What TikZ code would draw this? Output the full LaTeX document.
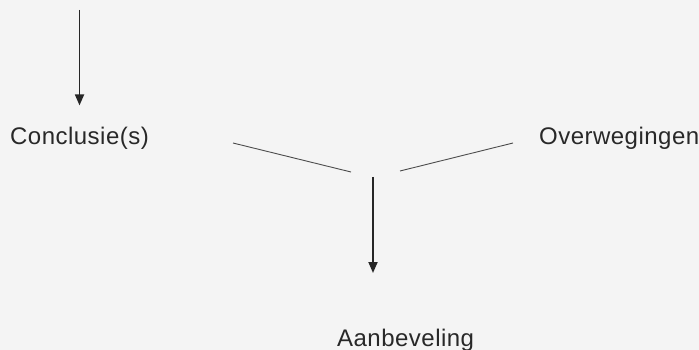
\documentclass[tikz,border=0pt]{standalone}
\usepackage{fontspec}
\usepackage{tikz}
\usetikzlibrary{arrows.meta,calc,positioning}
\newfontfamily\lblfont[LetterSpace=2]{Liberation Sans}
\definecolor{pagegray}{RGB}{244,244,244}
\definecolor{inkgray}{RGB}{40,40,40}

\begin{document}
\begin{tikzpicture}[
      x=1pt, y=-1pt,
      label text/.style={inner sep=0pt, anchor=base west, text=inkgray, font=\lblfont\fontsize{24}{28}\selectfont},
      flow/.style={-{Triangle[length=11pt,width=9pt]}, line width=1.8pt, draw=black!85},
      merge/.style={line width=0.9pt, draw=black!70}
    ]
      \fill[pagegray] (0,0) rectangle (699,350);
      \useasboundingbox (0,0) rectangle (699,350);

      % Left: conclusions with incoming arrow
      \node[label text] (conc) at (10,145) {Conclusie(s)};
      \coordinate (topin) at (conc.north |- 0,10);
      \draw[flow, shorten >=22pt] (topin) -- (conc.north);

      % Right: considerations
      \node[label text] (overw) at (539,145) {Overwegingen};

      % Merge lines towards the middle
      \coordinate (leftstart) at (233,143);
      \coordinate (leftend) at (351,172);
      \coordinate (rightstart) at (513,143);
      \coordinate (rightend) at (400,171);
      \draw[merge] (leftstart) -- (leftend);
      \draw[merge] (rightstart) -- (rightend);

      % Bottom: recommendation
      \node[label text] (aanb) at (337,346) {Aanbeveling};
      \coordinate (midstart) at (373,177);
      \coordinate (midend) at (373,273);
      \draw[flow] (midstart) -- (midend);
    \end{tikzpicture}
\end{document}
